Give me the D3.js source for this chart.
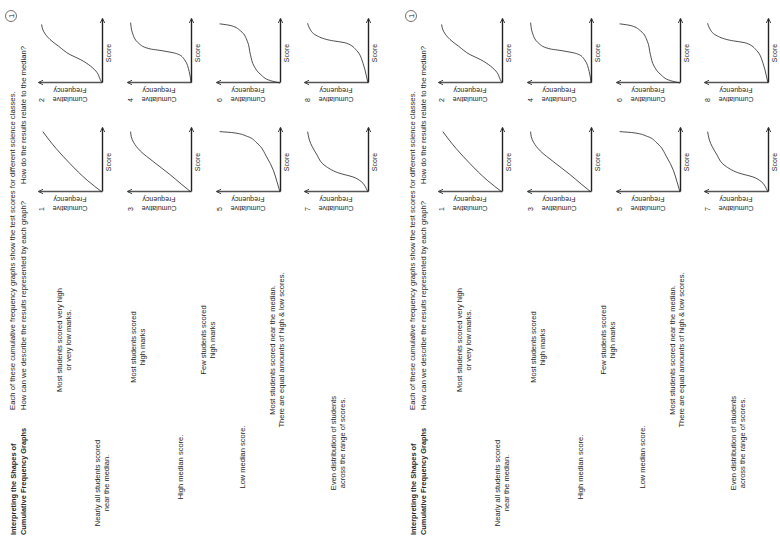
<!DOCTYPE html>
<html>
<head>
<meta charset="utf-8">
<script src="https://cdn.jsdelivr.net/npm/d3@7"></script>
<style>
  body { margin: 0; background: #fff; }
  svg { display: block; }
</style>
</head>
<body>
<div id="sheet"></div>
<script>
// worksheet text
const titleLines = ["Interpreting the Shapes of", "Cumulative Frequency Graphs"];
const introText = "Each of these cumulative frequency graphs show the test scores for different science classes.";
const question1 = "How can we describe the results represented by each graph?";
const question2 = "How do the results relate to the median?";
const statements = [
  ["Most students scored very high", "or very low marks."],
  ["Nearly all students scored", "near the median."],
  ["Most students scored", "high marks"],
  ["High median score."],
  ["Few students scored", "high marks"],
  ["Low median score."],
  ["Most students scored near the median.", "There are equal amounts of high & low scores."],
  ["Even distribution of students", "across the range of scores."]
];

// graph numbers and curves, [score, cumulative frequency] (0..1)
const graphNames = ["1", "2", "3", "4", "5", "6", "7", "8"];
const curve1 = [[0,0],[0.19,0.24],[0.47,0.53],[0.72,0.76],[0.88,0.89],[1,0.98]];
const curve2 = [[0,0],[0.06,0.03],[0.17,0.08],[0.28,0.19],[0.39,0.36],[0.47,0.53],[0.61,0.72],[0.72,0.86],[0.86,0.97],[0.97,1]];
const curve3 = [[0,0],[0.13,0.16],[0.29,0.35],[0.5,0.62],[0.68,0.84],[0.82,0.95],[0.92,0.99],[1,1]];
const curve4 = [[0,0],[0.19,0.03],[0.39,0.11],[0.48,0.22],[0.53,0.45],[0.57,0.7],[0.67,0.88],[0.83,0.97],[1,1]];
const curve5 = [[0,0],[0.17,0.05],[0.36,0.11],[0.58,0.22],[0.81,0.38],[0.92,0.54],[0.98,0.76],[1,1]];
const curve6 = [[0,0],[0.04,0.16],[0.14,0.32],[0.28,0.43],[0.47,0.49],[0.69,0.54],[0.86,0.65],[0.95,0.81],[0.98,1]];
const curve7 = [[0,0],[0.06,0.03],[0.17,0.11],[0.25,0.25],[0.31,0.47],[0.42,0.69],[0.64,0.86],[0.86,0.97],[1,1]];
const curve8 = [[0,0],[0.13,0.03],[0.32,0.08],[0.54,0.19],[0.66,0.36],[0.71,0.64],[0.79,0.86],[0.91,0.97],[0.99,1]];
const curves = [curve1, curve2, curve3, curve4, curve5, curve6, curve7, curve8];

const width = 780, height = 540;
const font = "'Liberation Sans', Arial, sans-serif";

// statement placement on the upright sheet (centre x, first line y)
const statementPos = [[200, 59], [57, 97], [193, 133], [73, 180], [200, 203], [83, 242], [190, 272], [97, 333]];
// graph origins: two columns, four rows
const colX = [348, 457];
const rowY = [102, 191, 280, 368];

const svg = d3.select("#sheet").append("svg")
  .attr("width", width).attr("height", height)
  .style("font-family", font)
  .style("fill", "#262626");

svg.append("defs").append("marker")
  .attr("id", "arrow")
  .attr("viewBox", "0 0 8 8")
  .attr("refX", 7).attr("refY", 4)
  .attr("markerWidth", 6).attr("markerHeight", 6)
  .attr("markerUnits", "userSpaceOnUse")
  .attr("orient", "auto")
  .append("path")
  .attr("d", "M1,1 L7,4 L1,7")
  .attr("fill", "none")
  .attr("stroke", "#333")
  .attr("stroke-width", 1.2);

// the sheet is scanned sideways: draw it upright, then turn it
function drawSheet(offset) {
  const g = svg.append("g")
    .attr("transform", `translate(${offset},${height}) rotate(-90)`);

  g.selectAll(".title").data(titleLines).join("text")
    .attr("x", 5).attr("y", (d, i) => 13 + i * 10)
    .attr("dy", "0.35em")
    .style("font-size", "7.4px").style("font-weight", "bold")
    .text(d => d);

  g.append("text").attr("x", 130).attr("y", 12).attr("dy", "0.35em")
    .style("font-size", "7.7px").text(introText);
  g.append("text").attr("x", 130).attr("y", 23).attr("dy", "0.35em")
    .style("font-size", "7.7px").text(question1);
  g.append("text").attr("x", 356).attr("y", 23).attr("dy", "0.35em")
    .style("font-size", "7.7px").text(question2);

  // circled page number
  g.append("circle").attr("cx", 524).attr("cy", 11).attr("r", 5.5)
    .attr("fill", "none").attr("stroke", "#333").attr("stroke-width", 0.7);
  g.append("text").attr("x", 524).attr("y", 11).attr("dy", "0.35em")
    .style("font-size", "7.5px").style("text-anchor", "middle").text("1");

  // statements
  statements.forEach((lines, i) => {
    const [cx, cy] = statementPos[i];
    g.selectAll(null).data(lines).join("text")
      .attr("x", cx).attr("y", (d, j) => cy + j * 9.5)
      .attr("dy", "0.35em")
      .style("font-size", "7.5px")
      .style("text-anchor", "middle")
      .text(d => d);
  });

  // small graphs
  curves.forEach((pts, i) => {
    const ox = colX[i % 2], oy = rowY[Math.floor(i / 2)];
    const x = d3.scaleLinear().domain([0, 1.06]).range([ox, ox + 64]);
    const y = d3.scaleLinear().domain([0, 1.06]).range([oy, oy - 64]);
    const gg = g.append("g");

    gg.append("g")
      .attr("transform", `translate(0,${oy})`)
      .call(d3.axisBottom(x).tickValues([]).tickSizeOuter(0))
      .call(a => a.select(".domain")
        .attr("stroke", "#222").attr("stroke-width", 1.4)
        .attr("marker-end", "url(#arrow)"));

    gg.append("g")
      .attr("transform", `translate(${ox},0)`)
      .call(d3.axisLeft(y).tickValues([]).tickSizeOuter(0))
      .call(a => a.select(".domain")
        .attr("stroke", "#555").attr("stroke-width", 1.4)
        .attr("marker-end", "url(#arrow)"));

    gg.append("path")
      .datum(pts)
      .attr("fill", "none")
      .attr("stroke", "#222")
      .attr("stroke-width", 0.8)
      .attr("d", d3.line().x(d => x(d[0])).y(d => y(d[1])).curve(d3.curveMonotoneX));

    gg.append("text")
      .attr("x", ox - 17).attr("y", oy - 60).attr("dy", "0.35em")
      .style("font-size", "7px").style("text-anchor", "middle")
      .text(graphNames[i]);

    gg.selectAll(null).data(["Cumulative", "Frequency"]).join("text")
      .attr("transform", (d, j) => `translate(${ox - 16 + j * 9},${oy - 32}) rotate(-90)`)
      .attr("dy", "0.35em")
      .style("font-size", "7px").style("text-anchor", "middle")
      .text(d => d);

    gg.append("text")
      .attr("x", ox + 30).attr("y", oy + 7).attr("dy", "0.35em")
      .style("font-size", "7px").style("text-anchor", "middle")
      .text("Score");
  });
}

drawSheet(0);
drawSheet(400);
</script>
</body>
</html>
